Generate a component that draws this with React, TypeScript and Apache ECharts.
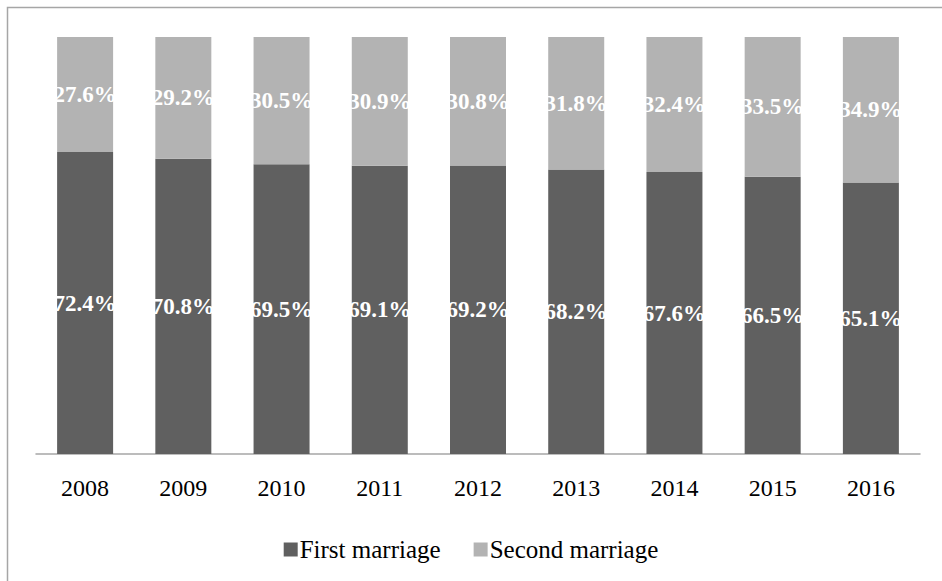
import React, { useEffect, useRef } from "react";
import * as echarts from "echarts";

const years = ["2008", "2009", "2010", "2011", "2012", "2013", "2014", "2015", "2016"];
const firstMarriage = [72.4, 70.8, 69.5, 69.1, 69.2, 68.2, 67.6, 66.5, 65.1];
const secondMarriage = [27.6, 29.2, 30.5, 30.9, 30.8, 31.8, 32.4, 33.5, 34.9];

const SERIF = "Liberation Serif";

export default function App() {
  const ref = useRef<HTMLDivElement>(null);
  useEffect(() => {
    document.body.style.margin = "0";
    const chart = echarts.init(ref.current!, null, { renderer: "svg" });
    const label = {
      show: true,
      position: "inside",
      color: "#ffffff",
      fontFamily: SERIF,
      fontWeight: "bold",
      fontSize: 23,
      formatter: (p: any) => p.value.toFixed(1) + "%",
    };
    chart.setOption({
      animation: false,
      backgroundColor: "#ffffff",
      graphic: [
        {
          type: "rect",
          shape: { x: 7.5, y: 7.5, width: 1000, height: 700 },
          style: { fill: "none", stroke: "#a6a6a6", lineWidth: 1.5 },
          silent: true,
          z: -10,
        },
      ],
      grid: { left: 36, right: 22, top: 37, bottom: 127, containLabel: false },
      xAxis: {
        type: "category",
        data: years,
        axisLine: { lineStyle: { color: "#a6a6a6", width: 1.5 } },
        axisTick: { show: false },
        axisLabel: { color: "#000000", fontFamily: SERIF, fontSize: 24, margin: 22 },
      },
      yAxis: {
        type: "value",
        min: 0,
        max: 100,
        show: false,
        splitLine: { show: false },
      },
      legend: {
        top: 532,
        left: "center",
        itemWidth: 14,
        itemHeight: 14,
        itemGap: 33,
        icon: "rect",
        textStyle: { color: "#000000", fontFamily: SERIF, fontSize: 25, padding: [0, 0, 0, -3] },
        data: ["First marriage", "Second marriage"],
      },
      series: [
        {
          name: "First marriage",
          type: "bar",
          stack: "total",
          data: firstMarriage,
          barWidth: 56,
          itemStyle: { color: "#606060" },
          label,
        },
        {
          name: "Second marriage",
          type: "bar",
          stack: "total",
          data: secondMarriage,
          barWidth: 56,
          itemStyle: { color: "#b3b3b3" },
          label,
        },
      ],
    });
    return () => chart.dispose();
  }, []);
  return <div ref={ref} style={{ width: 942, height: 581 }} />;
}
